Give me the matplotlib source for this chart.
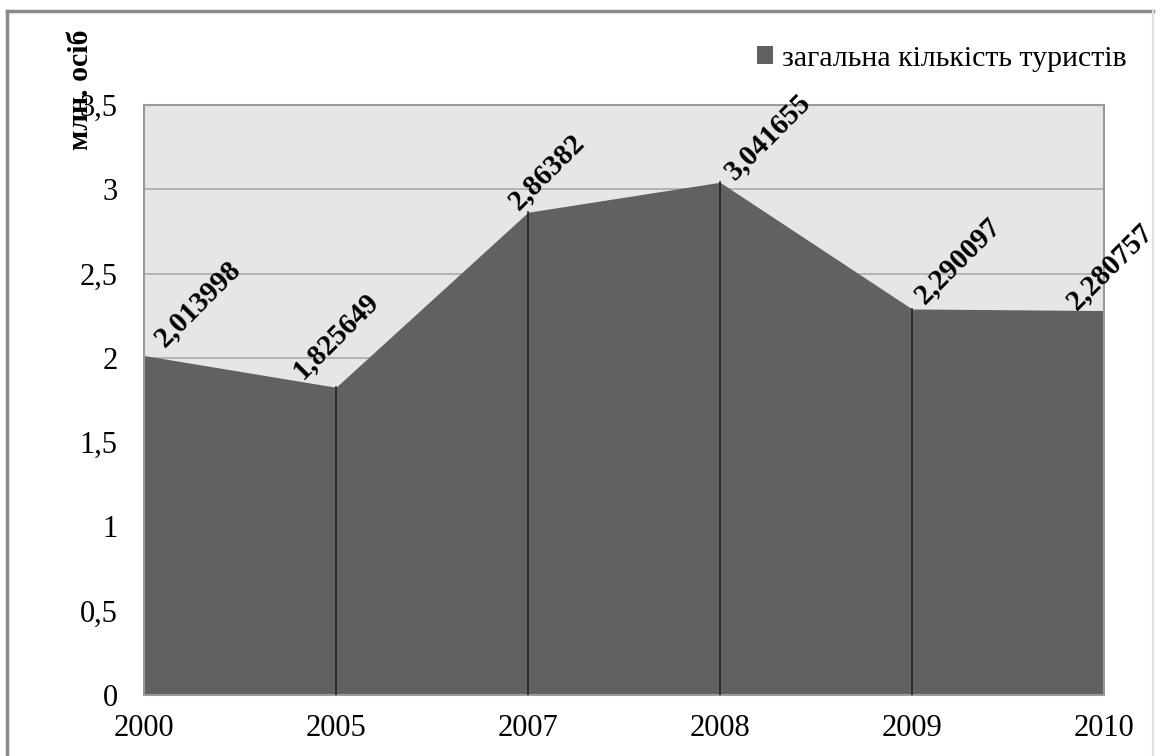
import matplotlib.pyplot as plt
from matplotlib.lines import Line2D
from matplotlib.patches import Patch

years = ['2000', '2005', '2007', '2008', '2009', '2010']
tourists = [2.013998, 1.825649, 2.86382, 3.041655, 2.290097, 2.280757]
value_labels = ['2,013998', '1,825649', '2,86382', '3,041655', '2,290097', '2,280757']
yticks = [0, 0.5, 1, 1.5, 2, 2.5, 3, 3.5]
ytick_labels = ['0', '0,5', '1', '1,5', '2', '2,5', '3', '3,5']
# label offsets in pixels (dx, dy)
label_offsets = [(20, 8), (-34, 8), (-10, 2), (14, 2), (12, 4), (-28, 0)]

plt.rcParams['font.family'] = ['Liberation Serif', 'DejaVu Serif']

fig = plt.figure(figsize=(11.6, 7.56), dpi=100)
ax = fig.add_axes([144 / 1160, 1 - 695 / 756, 960 / 1160, 590 / 756])

x = list(range(len(years)))
ax.set_facecolor('#e6e6e6')
ax.fill_between(x, 0, tourists, color='#616161', linewidth=0, zorder=2)
for i in x[1:-1]:
    ax.plot([i, i], [0, tourists[i]], color='#222222', linewidth=1.2, zorder=3)

ax.set_xlim(0, len(years) - 1)
ax.set_ylim(0, 3.5)
ax.set_yticks(yticks)
ax.set_yticklabels(ytick_labels, fontsize=22)
ax.set_xticks(x)
ax.set_xticklabels(years, fontsize=22)
ax.tick_params(axis='y', length=0, pad=19)
ax.tick_params(axis='x', length=0, pad=14)
ax.grid(axis='y', color='#ababab', linewidth=1.2, zorder=1)
ax.set_axisbelow(True)
for s in ax.spines.values():
    s.set_color('#9a9a9a')
    s.set_linewidth(1.5)

for i, (v, t) in enumerate(zip(tourists, value_labels)):
    dx, dy = label_offsets[i]
    ax.annotate(t, (i, v), xytext=(dx, dy), textcoords='offset pixels',
                rotation=45, rotation_mode='anchor', ha='left', va='baseline',
                fontsize=21, fontweight='bold', zorder=5, annotation_clip=False)

fig.text(80 / 1160, 1 - 90 / 756, 'млн. осіб', rotation=90, fontsize=21.5,
         fontweight='bold', ha='center', va='center')

handle = Patch(facecolor='#616161', edgecolor='none')
fig.legend([handle], ['загальна кількість туристів'], loc='center right',
           bbox_to_anchor=(1127 / 1160, 1 - 59 / 756), frameon=False,
           fontsize=21.5, handlelength=0.55, handleheight=0.55, handletextpad=0.3,
           borderpad=0, borderaxespad=0)

fig.add_artist(Line2D([7 / 1160, 7 / 1160], [0, 1 - 11 / 756], color='#8a8a8a', linewidth=2.5))
fig.add_artist(Line2D([7 / 1160, 1153 / 1160], [1 - 11 / 756, 1 - 11 / 756], color='#8a8a8a', linewidth=2.5))
fig.add_artist(Line2D([1153 / 1160, 1153 / 1160], [0, 1 - 11 / 756], color='#e0e0e0', linewidth=1.5))

fig.savefig('out.png', dpi=100)
